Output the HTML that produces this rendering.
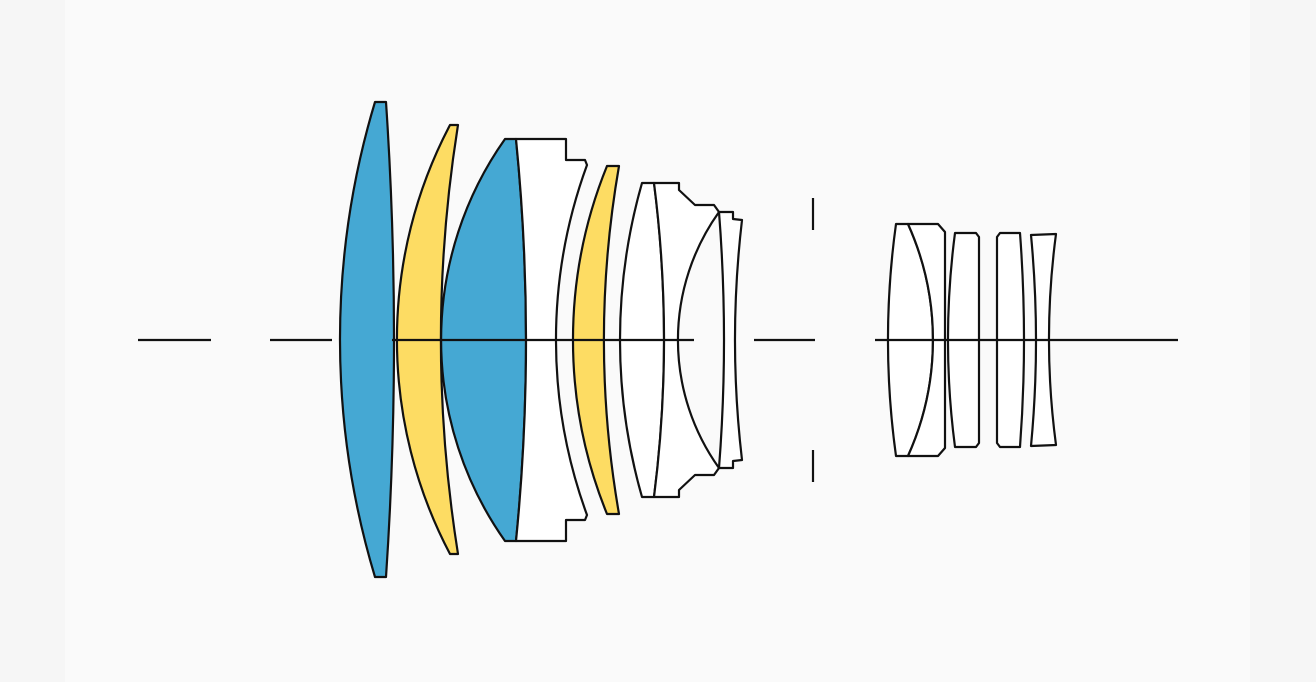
<!DOCTYPE html>
<html><head><style>
html,body{margin:0;padding:0;background:#f6f6f6;}
svg{display:block}
</style></head><body>
<svg width="1316" height="682" viewBox="0 0 1316 682" xmlns="http://www.w3.org/2000/svg">
<rect x="0" y="0" width="1316" height="682" fill="#f6f6f6"/>
<rect x="65" y="0" width="1185" height="682" fill="#fafafa"/>
<g stroke="#111" stroke-width="2.2" stroke-linejoin="round" fill="none">
<path d="M375,102 L386,102 A3529 3529 0 0 1 386,577 L375,577 A823 823 0 0 1 375,102 Z" fill="#45a8d3"/>
<path d="M450,125 L458,125 A1362 1362 0 0 0 458,554 L450,554 A460 460 0 0 1 450,125 Z" fill="#fddc63"/>
<path d="M505,139 L516,139 A2025 2025 0 0 1 516,541 L505,541 A348 348 0 0 1 505,139 Z" fill="#45a8d3"/>
<path d="M516,139 L566,139 L566,160 L585,160 L587,165 A509 509 0 0 0 587,515 L585,520 L566,520 L566,541 L516,541 A2025 2025 0 0 0 516,139 Z" fill="#fff"/>
<path d="M607,166 L619,166 A1017 1017 0 0 0 619,514 L607,514 A462 462 0 0 1 607,166 Z" fill="#fddc63"/>
<path d="M642,183 L654,183 A1237 1237 0 0 1 654,497 L642,497 A571 571 0 0 1 642,183 Z" fill="#fff"/>
<path d="M654,183 L679,183 L679,190 L695,205 L714,205 L719,212 A220 220 0 0 0 719,468 L714,475 L695,475 L679,490 L679,497 L654,497 A1237 1237 0 0 0 654,183 Z" fill="#fff"/>
<path d="M719,212 L733,212 L733,219 L742,220 A1032 1032 0 0 0 742,460 L733,461 L733,468 L719,468 A1641 1641 0 0 0 719,212 Z" fill="#fff"/>
<line x1="813" y1="198" x2="813" y2="230"/>
<line x1="813" y1="450" x2="813" y2="482"/>
<path d="M896,224 L908,224 A282 282 0 0 1 908,456 L896,456 A845 845 0 0 1 896,224 Z" fill="#fff"/>
<path d="M908,224 L938,224 L945,232 L945,448 L938,456 L908,456 A282 282 0 0 0 908,224 Z" fill="#fff"/>
<path d="M955,233 L976,233 L979,237 L979,443 L976,447 L955,447 A821 821 0 0 1 955,233 Z" fill="#fff"/>
<path d="M1000,233 L1020,233 A1433 1433 0 0 1 1020,447 L1000,447 L997,443 L997,237 Z" fill="#fff"/>
<path d="M1031,235 L1056,234 A798 798 0 0 0 1056,445 L1031,446 A1115 1115 0 0 0 1031,235 Z" fill="#fff"/>
<line x1="138" y1="340" x2="211" y2="340"/>
<line x1="270" y1="340" x2="332" y2="340"/>
<line x1="392" y1="340" x2="694" y2="340"/>
<line x1="754" y1="340" x2="815" y2="340"/>
<line x1="875" y1="340" x2="1178" y2="340"/>
</g>
</svg>
</body></html>
